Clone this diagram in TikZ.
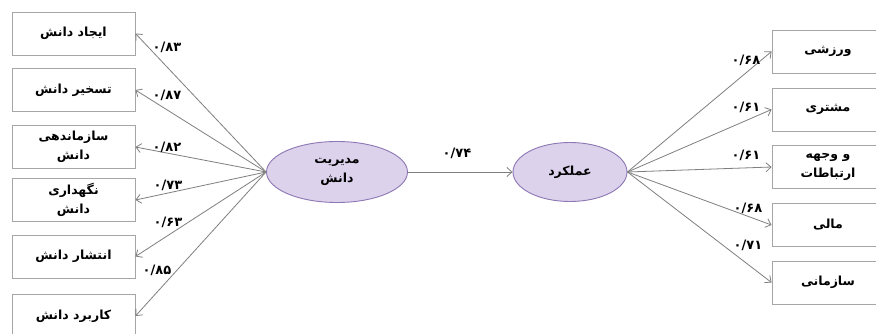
\documentclass[tikz,border=0pt]{standalone}
\usepackage{fontspec}
\usetikzlibrary{arrows.meta,shapes.geometric}
\TeXXeTstate=1
\newfontfamily\fafont[Script=Arabic]{DejaVu Sans}
\definecolor{boxgray}{HTML}{A6A6A6}
\definecolor{linegray}{HTML}{7F7F7F}
\definecolor{lavfill}{HTML}{DCD2EC}
\definecolor{lavline}{HTML}{8D77B4}
\newcommand{\fa}[1]{\beginR #1\endR}
\begin{document}
\begin{tikzpicture}[x=1pt,y=-1pt,
  ibox/.style={draw=boxgray,line width=0.9pt,fill=white,minimum width=123pt,minimum height=43pt,inner sep=0pt,align=center,font=\fafont\bfseries\fontsize{12.5}{19}\selectfont},
  rbox/.style={ibox,minimum width=112pt},
  lat/.style={ellipse,draw=lavline,line width=0.9pt,fill=lavfill,inner sep=0pt,align=center,font=\fafont\bfseries\fontsize{12.5}{19}\selectfont},
  coef/.style={inner sep=0pt,font=\fafont\bfseries\fontsize{13}{14}\selectfont},
  path/.style={draw=linegray,line width=0.8pt,-{Straight Barb[length=5pt,width=9pt]}}]
\useasboundingbox (0,0) rectangle (876,334);
\fill[white] (0,0) rectangle (876,334);
\clip (0,0) rectangle (876,334);
% left indicators
\node[ibox] (b1) at (73.5,33.5) {\fa{ایجاد دانش}};
\node[ibox] (b2) at (73.5,90) {\fa{تسخیر دانش}};
\node[ibox] (b3) at (73.5,147) {\fa{سازماندهی}\\\fa{دانش}};
\node[ibox] (b4) at (73.5,200) {\fa{نگهداری}\\\fa{دانش}};
\node[ibox] (b5) at (73.5,256.5) {\fa{انتشار دانش}};
\node[ibox] (b6) at (73.5,316) {\fa{کاربرد دانش}};
% latent variables
\node[lat,minimum width=141pt,minimum height=61pt] (km) at (337,172) {\fa{مدیریت}\\\fa{دانش}};
\node[lat,minimum width=114pt,minimum height=59pt] (pf) at (570,172) {\fa{عملکرد}};
% right indicators
\node[rbox] (r1) at (828,51.5) {\fa{ورزشی}};
\node[rbox] (r2) at (828,109.5) {\fa{مشتری}};
\node[rbox] (r3) at (828,167) {\fa{و وجهه}\\\fa{ارتباطات}};
\node[rbox] (r4) at (828,225) {\fa{مالی}};
\node[rbox] (r5) at (828,282.5) {\fa{سازمانی}};
% paths
\foreach \b in {b1,b2,b3,b4,b5,b6} \draw[path] (km.west) -- (\b.east);
\draw[path] (km.east) -- (pf.west);
\foreach \r in {r1,r2,r3,r4,r5} \draw[path] (pf.east) -- (\r.west);
% coefficients
\node[coef] (c1) at (167,47) {۰/۸۳};
\node[coef] (c2) at (167,95) {۰/۸۷};
\node[coef] (c3) at (167,147) {۰/۸۲};
\node[coef] (c4) at (168,185) {۰/۷۳};
\node[coef] (c5) at (168,222) {۰/۶۳};
\node[coef] (c6) at (157,270) {۰/۸۵};
\node[coef] (c7) at (457,153) {۰/۷۴};
\node[coef] (d1) at (746,60) {۰/۶۸};
\node[coef] (d2) at (746,107) {۰/۶۱};
\node[coef] (d3) at (746,155) {۰/۶۱};
\node[coef] (d4) at (748,208) {۰/۶۸};
\node[coef] (d5) at (748,245) {۰/۷۱};
\end{tikzpicture}
\end{document}
